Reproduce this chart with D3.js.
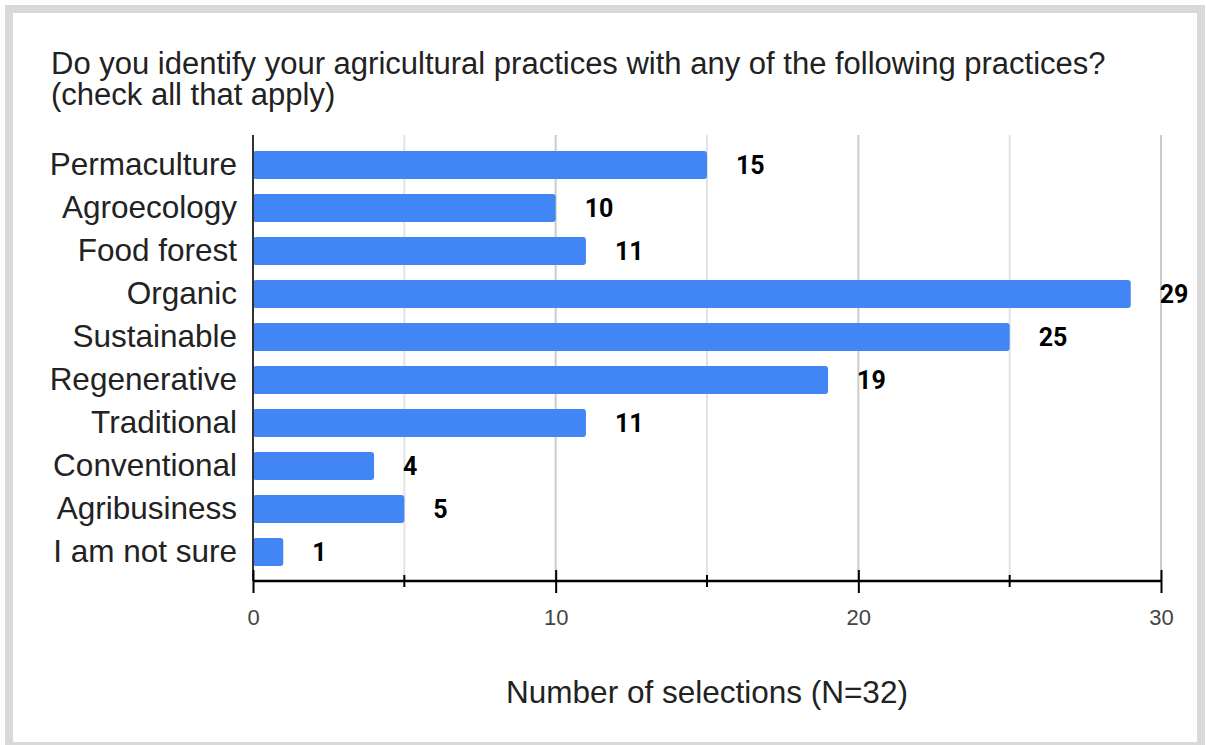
<!DOCTYPE html>
<html lang="en">
<head>
  <meta charset="UTF-8">
  <title></title>
  <style>
    html, body {
      margin: 0;
      overflow: hidden;
      width: 100%;
      height: 100%;
      background: #fff;
    }

    svg {
      position: absolute;
      top: 0;
      left: 0;
    }
  </style>
</head>
<body>
  <svg width="1206" height="745"></svg>
</body>
<script src="https://d3js.org/d3.v7.min.js"></script>
<script type="text/javascript">
  const categories = ['Permaculture', 'Agroecology', 'Food forest', 'Organic', 'Sustainable',
    'Regenerative', 'Traditional', 'Conventional', 'Agribusiness', 'I am not sure']
  const selections = [15, 10, 11, 29, 25, 19, 11, 4, 5, 1]
  const majorTicks = [0, 10, 20, 30]
  const minorTicks = [5, 15, 25]
  const titleLines = ['Do you identify your agricultural practices with any of the following practices?',
    '(check all that apply)']
  const axisTitle = 'Number of selections (N=32)'

  const font = '"Liberation Sans", Arial, sans-serif'
  const svg = d3.select('svg')

  // frame
  svg.append('rect')
    .attr('x', 9).attr('y', 9)
    .attr('width', 1192).attr('height', 737)
    .attr('fill', '#fff')
    .attr('stroke', '#d9d9d9')
    .attr('stroke-width', 8)

  const x = d3.scaleLinear().domain([0, 30]).range([253, 1161])
  const y = d3.scaleBand().domain(categories).range([143.5, 573.5])
    .paddingInner(0.35).paddingOuter(0.175)

  const plotTop = 135
  const plotBase = 581

  // title
  svg.append('text')
    .attr('font-family', font)
    .attr('font-size', 31)
    .attr('fill', '#222')
    .selectAll('tspan')
    .data(titleLines)
    .enter()
    .append('tspan')
    .attr('x', 51)
    .attr('y', (d, i) => 74 + i * 31)
    .text(d => d)

  // gridlines
  svg.selectAll('line.grid')
    .data(majorTicks.concat(minorTicks).filter(d => d > 0))
    .enter()
    .append('line')
    .attr('class', 'grid')
    .attr('x1', d => x(d)).attr('x2', d => x(d))
    .attr('y1', plotTop).attr('y2', plotBase)
    .attr('stroke', d => d % 10 === 0 ? '#cccccc' : '#e3e3e3')
    .attr('stroke-width', 2)

  // bars
  svg.selectAll('rect.bar')
    .data(selections)
    .enter()
    .append('rect')
    .attr('class', 'bar')
    .attr('x', x(0))
    .attr('y', (d, i) => y(categories[i]))
    .attr('width', d => x(d) - x(0))
    .attr('height', y.bandwidth())
    .attr('rx', 3)
    .attr('fill', '#4285f4')

  // value labels
  svg.selectAll('text.value')
    .data(selections)
    .enter()
    .append('text')
    .attr('class', 'value')
    .attr('x', d => x(d) + 29)
    .attr('y', (d, i) => y(categories[i]) + y.bandwidth() / 2)
    .attr('dy', '0.36em')
    .attr('font-family', 'Roboto, sans-serif')
    .attr('font-weight', 'bold')
    .attr('font-size', 25)
    .attr('fill', '#000')
    .text(d => d)

  // category labels
  svg.selectAll('text.cat')
    .data(categories)
    .enter()
    .append('text')
    .attr('class', 'cat')
    .attr('x', 237)
    .attr('y', d => y(d) + y.bandwidth() / 2)
    .attr('dy', '0.33em')
    .attr('text-anchor', 'end')
    .attr('font-family', font)
    .attr('font-size', 31.5)
    .attr('fill', '#222')
    .text(d => d)

  // y axis line
  svg.append('line')
    .attr('x1', x(0)).attr('x2', x(0))
    .attr('y1', plotTop).attr('y2', plotBase)
    .attr('stroke', '#333')
    .attr('stroke-width', 2)

  // x axis
  const axis = svg.append('g')
    .attr('transform', `translate(0,${plotBase})`)
    .call(d3.axisBottom(x).tickValues(majorTicks).tickSize(12).tickPadding(16))
  axis.select('.domain').remove()
  axis.selectAll('.tick line')
    .attr('y1', -11)
    .attr('stroke', '#000')
    .attr('stroke-width', 2)
  axis.selectAll('.tick text')
    .attr('font-family', font)
    .attr('font-size', 22)
    .attr('fill', '#444')
  axis.append('line')
    .attr('x1', x(0)).attr('x2', x(30))
    .attr('stroke', '#000')
    .attr('stroke-width', 2.5)
  axis.selectAll('line.minor')
    .data(minorTicks)
    .enter()
    .append('line')
    .attr('class', 'minor')
    .attr('x1', d => x(d)).attr('x2', d => x(d))
    .attr('y1', -6).attr('y2', 6)
    .attr('stroke', '#000')
    .attr('stroke-width', 2)

  svg.append('text')
    .attr('x', 707)
    .attr('y', 703)
    .attr('text-anchor', 'middle')
    .attr('font-family', font)
    .attr('font-size', 31.5)
    .attr('fill', '#222')
    .text(axisTitle)
</script>
</html>
